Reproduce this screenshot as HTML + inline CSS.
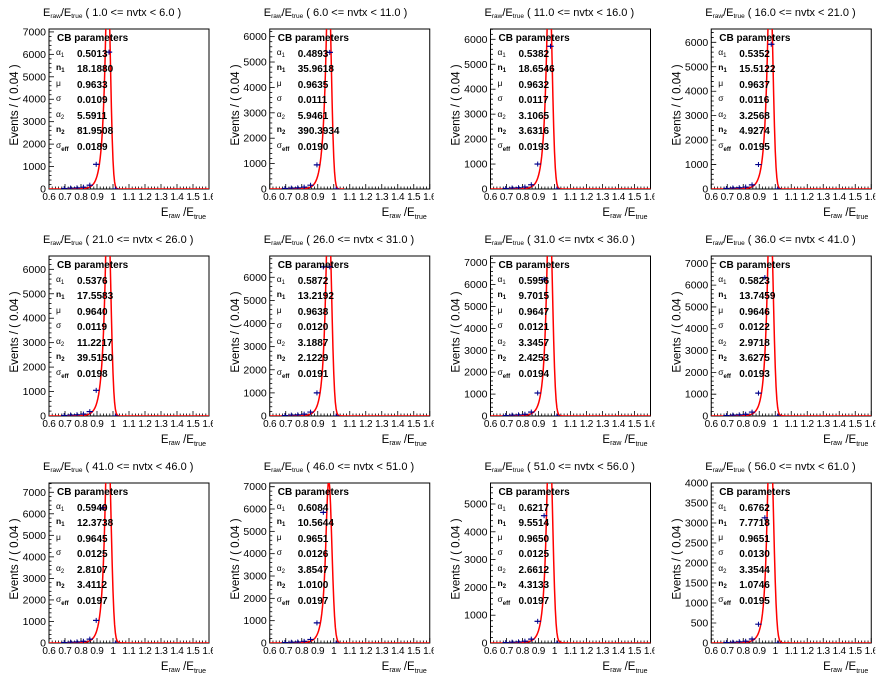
<!DOCTYPE html>
<html><head><meta charset="utf-8">
<style>
html,body{margin:0;padding:0;background:#fff;}
svg{display:block;font-family:"Liberation Sans",Arial,sans-serif;}
</style></head>
<body>
<svg id="fig" width="883" height="681" viewBox="0 0 883 681" xmlns="http://www.w3.org/2000/svg"></svg>
<script>
// ---- data ----
const nvtxLow = [1,6,11,16,21,26,31,36,41,46,51,56];
const nvtxHigh = [6,11,16,21,26,31,36,41,46,51,56,61];
const alpha1 = [0.5013,0.4893,0.5382,0.5352,0.5376,0.5872,0.5956,0.5823,0.5940,0.6084,0.6217,0.6762];
const n1 = [18.1880,35.9618,18.6546,15.5122,17.5583,13.2192,9.7015,13.7459,12.3738,10.5644,9.5514,7.7718];
const mu = [0.9633,0.9635,0.9632,0.9637,0.9640,0.9638,0.9647,0.9646,0.9645,0.9651,0.9650,0.9651];
const sigma = [0.0109,0.0111,0.0117,0.0116,0.0119,0.0120,0.0121,0.0122,0.0125,0.0126,0.0125,0.0130];
const alpha2 = [5.5911,5.9461,3.1065,3.2568,11.2217,3.1887,3.3457,2.9718,2.8107,3.8547,2.6612,3.3544];
const n2 = [81.9508,390.3934,3.6316,4.9274,39.5150,2.1229,2.4253,3.6275,3.4112,1.0100,4.3133,1.0746];
const sigmaEff = [0.0189,0.0190,0.0193,0.0195,0.0198,0.0191,0.0194,0.0193,0.0197,0.0197,0.0197,0.0195];
const amplitude = [9500,8400,8600,8800,8800,9200,9800,9800,9900,7300,7700,5400];
const yMax = [7130,6300,6413,6545,6545,6920,7306,7335,7430,7165,5755,4000];
const yStep = [1000,1000,1000,1000,1000,1000,1000,1000,1000,1000,1000,500];
const binCenters = [0.70,0.74,0.78,0.82,0.86,0.90,0.94,0.98,1.02];
const binValues = [
 [20,40,50,80,170,1100,9000,6100,0],
 [20,35,45,75,150,950,8000,5380,0],
 [20,40,50,80,170,1000,8500,5720,0],
 [20,40,50,80,170,1000,8500,5920,0],
 [20,40,50,80,180,1050,8500,8000,0],
 [20,40,50,80,170,1000,6450,6450,0],
 [20,40,50,80,180,1050,6250,8000,0],
 [20,40,50,80,180,1050,6350,8000,0],
 [20,40,50,80,180,1050,6280,8000,0],
 [20,35,45,75,160,900,5850,8000,0],
 [15,30,40,65,140,780,4580,8000,0],
 [10,20,30,45,100,470,3130,8000,0]
];
const xTicks = [0.6,0.7,0.8,0.9,1,1.1,1.2,1.3,1.4,1.5,1.6];
const xTickLabels = ["0.6","0.7","0.8","0.9","1","1.1","1.2","1.3","1.4","1.5","1.6"];
const drawSigmaScale = 1.5;
const drawMuShift = 0.004;

const NS = "http://www.w3.org/2000/svg";
const fig = document.getElementById('fig');
function mk(tag, attrs, parent){ const e=document.createElementNS(NS,tag); for(const k in attrs) e.setAttribute(k,attrs[k]); parent.appendChild(e); return e; }

function cb(x,i){
  const t=(x-mu[i]-drawMuShift)/(sigma[i]*drawSigmaScale);
  const a1=alpha1[i]*1.6, a2=alpha2[i];
  if(t<-a1){ const A=Math.pow(n1[i]/a1,n1[i])*Math.exp(-a1*a1/2), B=n1[i]/a1-a1; return A*Math.pow(B-t,-n1[i]); }
  if(t>a2){ const A=Math.pow(n2[i]/a2,n2[i])*Math.exp(-a2*a2/2), B=n2[i]/a2-a2; return A*Math.pow(B+t,-n2[i]); }
  return Math.exp(-t*t/2);
}

const defs = mk('defs',{},fig);

for(let i=0;i<12;i++){
  const c=i%4, r=Math.floor(i/4);
  const ox=c*220.75, oy=r*227;
  const L=ox+49, R=ox+209, T=oy+29, Bm=oy+189;
  const sx=v=>L+(v-0.6)/1.0*(R-L);
  const sy=v=>Bm-v/yMax[i]*(Bm-T);

  const pc = mk('clipPath',{id:'pc'+i},defs);
  mk('rect',{x:ox,y:oy,width:213,height:227},pc);
  const fc = mk('clipPath',{id:'fc'+i},defs);
  mk('rect',{x:L,y:T,width:R-L,height:Bm-T},fc);

  const g = mk('g',{'clip-path':'url(#pc'+i+')'},fig);
  
  

  const ti = mk('text',{x:ox+43,y:oy+16,'font-size':'11'},g);
  
  
  ti.innerHTML = 'E<tspan font-size="6.5" dy="2">raw</tspan><tspan dy="-2">/E</tspan><tspan font-size="6.5" dy="2">true</tspan><tspan dy="-2">  ( '+nvtxLow[i].toFixed(1)+' &lt;= nvtx &lt; '+nvtxHigh[i].toFixed(1)+' )</tspan>';

  const fr = mk('rect',{x:L,y:T,width:R-L,height:Bm-T,fill:'none',stroke:'#000','stroke-width':1},g);
  
  

  for(let k=0;k<=50;k++){
    const v=0.6+k*0.02, x=sx(v), len=(k%5===0)?5:2.5;
    mk('line',{x1:x,x2:x,y1:Bm,y2:Bm-len,stroke:'#000','stroke-width':0.8},g);
  }
  xTicks.forEach((v,k)=>{
    const tl=mk('text',{x:sx(v),y:oy+200,'font-size':'10','letter-spacing':'-0.2','text-anchor':'middle'},g);
    
    
    tl.textContent=xTickLabels[k];
  });
  const minor=yStep[i]/5;
  for(let v=0; v<=yMax[i]+0.1; v+=minor){
    const y=sy(v), major=Math.abs(v/yStep[i]-Math.round(v/yStep[i]))<1e-6;
    mk('line',{x1:L,x2:L+(major?5:2.5),y1:y,y2:y,stroke:'#000','stroke-width':0.8},g);
    if(major){
      const yl=mk('text',{x:L-3,y:y+3.5,'font-size':'10.5','text-anchor':'end'},g);
      
      
      yl.textContent=String(Math.round(v));
    }
  }
  const yt=mk('text',{x:0,y:0,'font-size':'11.5','text-anchor':'middle',transform:'translate('+(ox+18)+','+(oy+105)+') rotate(-90)'},g);
  
  
  yt.textContent='Events / ( 0.04 )';
  const xt=mk('text',{x:ox+206,y:oy+216,'font-size':'11.5','text-anchor':'end'},g);
  
  
  xt.innerHTML='E<tspan font-size="7" dy="2">raw</tspan><tspan dy="-2"> /E</tspan><tspan font-size="7" dy="3">true</tspan>';

  const pts=[];
  for(let x=0.6;x<=1.6001;x+=0.005){ pts.push(sx(x).toFixed(2)+','+sy(amplitude[i]*cb(x,i)).toFixed(2)); }
  const cg=mk('g',{'clip-path':'url(#fc'+i+')'},g);
  const cv=mk('polyline',{points:pts.join(' '),fill:'none',stroke:'#ff0000','stroke-width':1.5},cg);
  
  
  binCenters.forEach((bc,k)=>{
    const v=binValues[i][k];
    if(v>yMax[i]) return;
    const x=sx(bc-0.005), y=sy(v);
    const pg=mk('g',{},cg);
    
    
    mk('line',{x1:sx(bc-0.025),x2:sx(bc+0.015),y1:y,y2:y,stroke:'#00008b','stroke-width':1.2},pg);
    mk('line',{x1:x,x2:x,y1:y-2.5,y2:y+2.5,stroke:'#00008b','stroke-width':1},pg);
  });

  const st=mk('g',{},g);
  
  
  const hd=mk('text',{x:ox+57,y:oy+41,'font-size':'10','font-weight':'bold'},st);
  hd.textContent='CB parameters';
  const labels=['α<tspan font-size="6" dy="2">1</tspan>','<tspan font-weight="bold">n</tspan><tspan font-size="6" dy="2" font-weight="bold">1</tspan>','μ','σ','α<tspan font-size="6" dy="2">2</tspan>','<tspan font-weight="bold">n</tspan><tspan font-size="6" dy="2" font-weight="bold">2</tspan>','σ<tspan font-size="6" dy="3" font-weight="bold">eff</tspan>'];
  const vals=[alpha1[i],n1[i],mu[i],sigma[i],alpha2[i],n2[i],sigmaEff[i]];
  const rowsY=[57,72,88,103,119,134,150];
  for(let k=0;k<7;k++){
    const lt=mk('text',{x:ox+56,y:oy+rowsY[k]-2,'font-size':'8.5'},st);
    lt.innerHTML=labels[k];
    const vt=mk('text',{x:ox+77,y:oy+rowsY[k],'font-size':'10','font-weight':'bold'},st);
    vt.textContent=vals[k].toFixed(4);
  }
}
</script>
</body></html>
